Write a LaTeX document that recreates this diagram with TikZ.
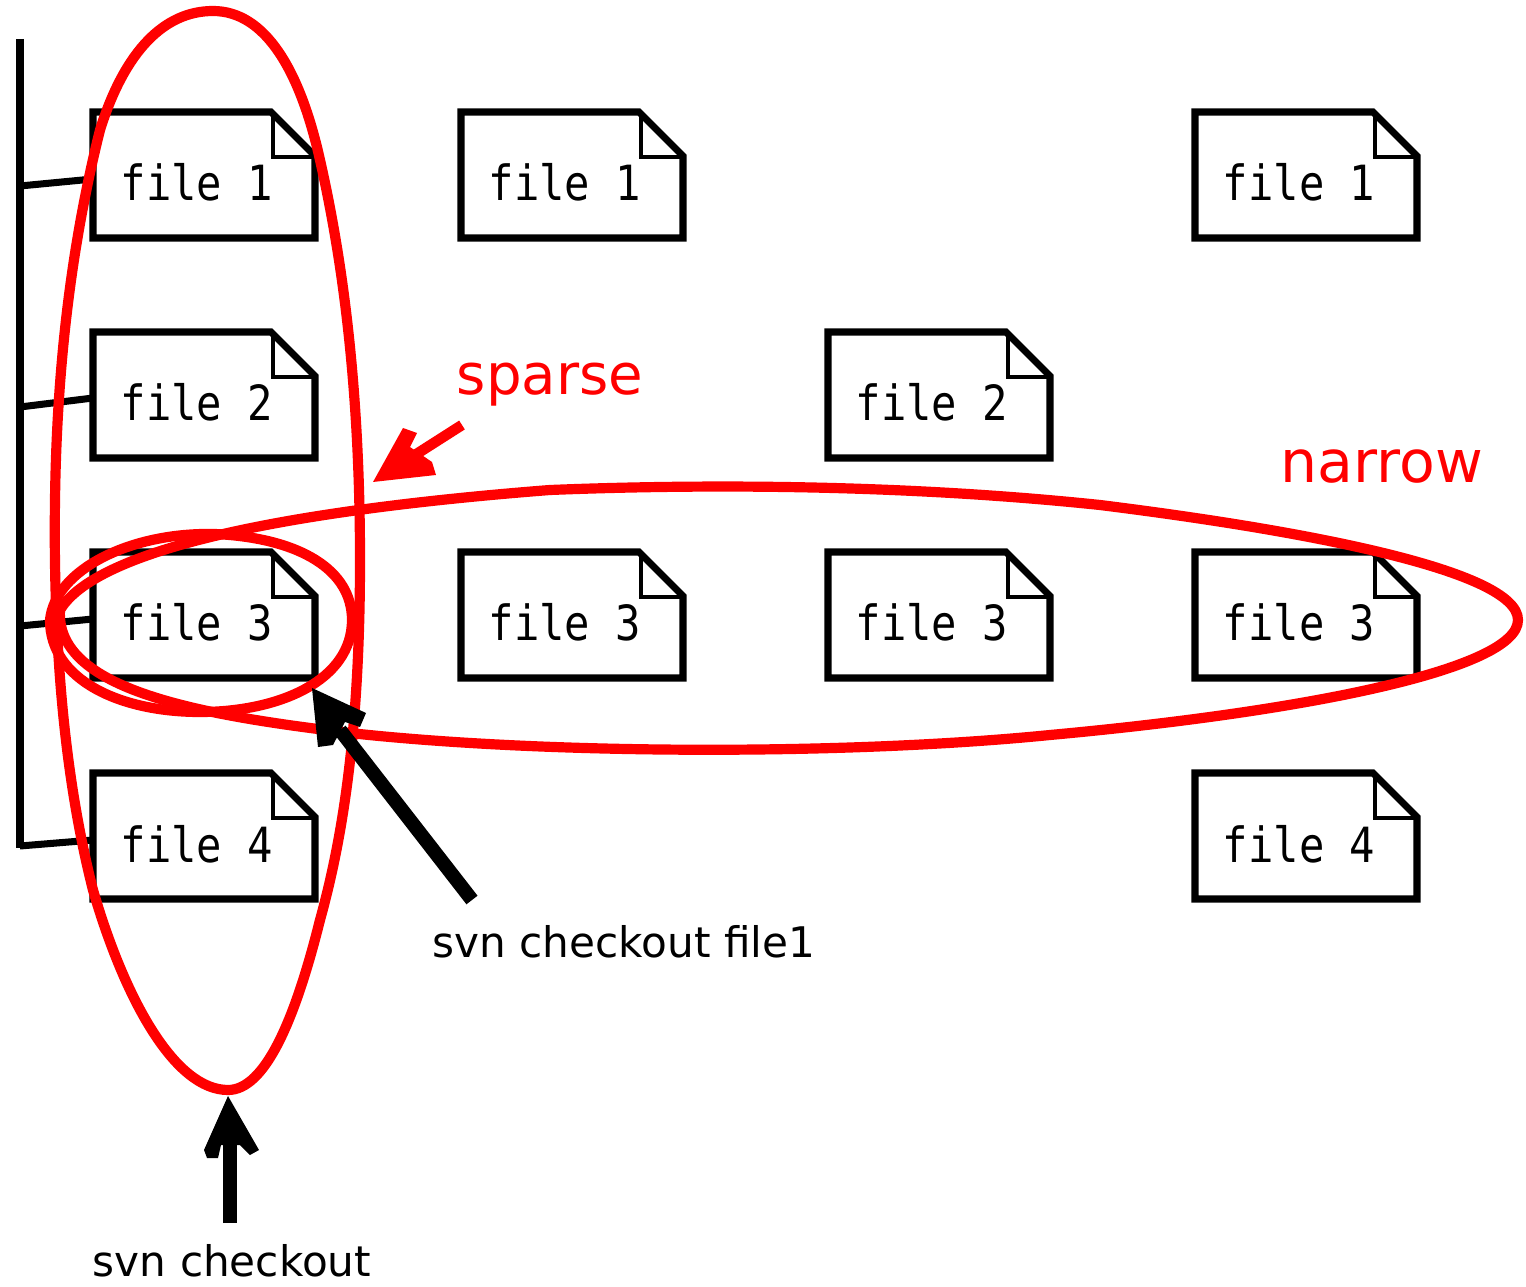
\documentclass[tikz,border=0pt]{standalone}
\usepackage{fontspec}
\usepackage{graphicx}
\setmainfont{DejaVu Sans}
\setmonofont{DejaVu Sans Mono}
\definecolor{pred}{RGB}{255,0,0}
\tikzset{x=0.02cm,y=-0.02cm,
 rl/.style={draw=pred,line width=5.8pt,line join=round},
 tl/.style={draw=black,line width=4pt},
 lab/.style={inner sep=0,anchor=base,font=\fontsize{24}{24}\selectfont\ttfamily},
 captxt/.style={inner sep=0,anchor=base},
 ar/.style={draw=black,line width=8pt}}
\newcommand{\filebox}[4]{% name x y label
 \coordinate (#1) at (#2,#3);
 \draw[draw=black,line width=4pt,line join=miter] (#2,#3) -- ++(178,0) -- ++(44,44) -- ++(0,82) -- ++(-222,0) -- cycle;
 \draw[draw=black,line width=2pt] (#2+180,#3) -- ++(0,45) -- ++(44,0);
 \node[lab] (#1t) at (#2+104,#3+89) {\scalebox{1}[1.15]{#4}};
}
\begin{document}
\begin{tikzpicture}
\useasboundingbox (0,0) rectangle (1526,1287);
\filebox{a1}{93}{112}{file 1}
\filebox{a2}{93}{332}{file 2}
\filebox{a3}{93}{552}{file 3}
\filebox{a4}{93}{773}{file 4}
\filebox{b1}{461}{112}{file 1}
\filebox{b3}{461}{552}{file 3}
\filebox{c2}{828}{332}{file 2}
\filebox{c3}{828}{552}{file 3}
\filebox{d1}{1195}{112}{file 1}
\filebox{d3}{1195}{552}{file 3}
\filebox{d4}{1195}{773}{file 4}
% tree
\coordinate (t0) at (20,39);
\coordinate (t1) at (20,848);
\draw[tl] (t0) -- (t1);
\draw[tl] (20,186) -- (93,179);
\draw[tl] (20,407) -- (93,398);
\draw[tl] (20,626) -- (93,619);
\draw[tl] (20,846) -- (93,840);
% red big vertical ellipse
\draw[rl] (213,11) .. controls (265,11) and (300,70) .. (320,160)
 .. controls (345,270) and (360,400) .. (360,560)
 .. controls (360,720) and (345,830) .. (320,920)
 .. controls (295,1020) and (265,1090) .. (228,1090)
 .. controls (175,1090) and (125,1000) .. (93,890)
 .. controls (65,780) and (53,650) .. (55,500)
 .. controls (57,350) and (75,230) .. (100,130)
 .. controls (125,50) and (165,11) .. (213,11) -- cycle;
% narrow ellipse
\draw[rl] (60,610) .. controls (90,560) and (230,515) .. (550,490)
 .. controls (700,484) and (900,484) .. (1100,505)
 .. controls (1300,530) and (1518,570) .. (1518,620)
 .. controls (1518,670) and (1300,712) .. (1050,735)
 .. controls (850,755) and (550,755) .. (350,733)
 .. controls (200,715) and (55,690) .. (60,610) -- cycle;
% small circle
\draw[rl] (50,620) .. controls (55,570) and (130,532) .. (215,534)
 .. controls (300,538) and (352,570) .. (352,620)
 .. controls (352,680) and (280,712) .. (200,712)
 .. controls (120,712) and (50,680) .. (50,620) -- cycle;
% sparse arrow
\coordinate (sa0) at (462,425);
\coordinate (sa1) at (373,482);
\coordinate (sa2) at (415,455);
\draw[draw=pred,line width=6pt] (sa0) -- (sa2);
\fill[pred] (sa1) -- (403,428) -- (417,433) -- (410,447) -- (432,462) -- (436,475) -- cycle;
% black arrows
\coordinate (ba0) at (472,900);
\coordinate (ba1) at (312,688);
\coordinate (ba2) at (340,730);
\draw[ar] (ba0) -- (ba2);
\fill[black] (ba1) -- (366,713) -- (360,727) -- (345,722) -- (333,745) -- (318,747) -- cycle;
\coordinate (ca0) at (230,1223);
\coordinate (ca1) at (228,1096);
\coordinate (ca2) at (230,1135);
\draw[ar] (ca0) -- (ca2);
\fill[black] (ca1) -- (259,1150) -- (250,1155) -- (240,1145) -- (221,1145) -- (218,1158) -- (207,1158) -- (204,1150) -- cycle;
% labels
\node[captxt,text=pred,font=\fontsize{32}{32}\selectfont] (sp) at (550,395) {sparse};
\node[captxt,text=pred,font=\fontsize{33.3}{33}\selectfont] (na) at (1382,483) {narrow};
\node[captxt,font=\fontsize{24}{24}\selectfont] (cf) at (624,957) {svn checkout file1};
\node[captxt,font=\fontsize{24}{24}\selectfont] (co) at (232,1276) {svn checkout};
\end{tikzpicture}
\end{document}
